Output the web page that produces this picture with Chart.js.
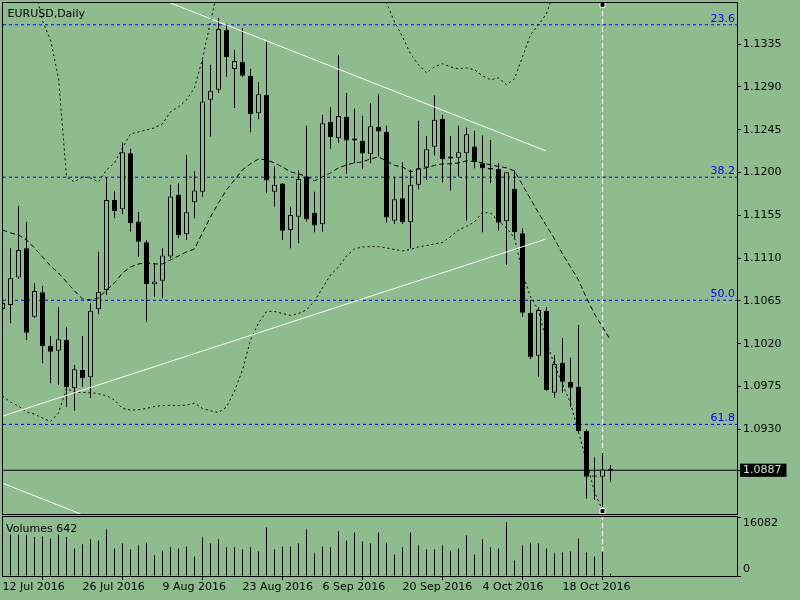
<!DOCTYPE html>
<html><head><meta charset="utf-8">
<script src="https://cdn.jsdelivr.net/npm/chart.js@4.4.1/dist/chart.umd.min.js"></script>
<style>
html,body{margin:0;padding:0;background:#8FBC8F;width:800px;height:600px;overflow:hidden}
#a{position:absolute;left:0;top:0}
#b{position:absolute;left:0;top:516px}
</style></head><body>
<canvas id="a" width="800" height="515"></canvas>
<canvas id="b" width="800" height="84"></canvas>
<script>
// ---------------- data ----------------
const symbolTitle = 'EURUSD,Daily';
const open = [1.10565,1.10607,1.10895,1.11204,1.10484,1.10741,1.10176,1.10127,1.10239,1.09731,
1.09924,1.09847,1.10562,1.10765,1.11712,1.11614,1.12203,1.11484,1.11267,1.10825,
1.10863,1.11116,1.11765,1.11351,1.11688,1.11799,1.12764,1.12869,1.13500,1.13087,
1.13164,1.13017,1.12624,1.12817,1.11799,1.11884,1.11396,1.11536,1.11957,1.11578,
1.11456,1.12533,1.12361,1.12585,1.12357,1.12333,1.12193,1.12480,1.12427,1.11494,
1.11730,1.11477,1.11870,1.12052,1.12270,1.12564,1.12168,1.12154,1.12203,1.12273,
1.12098,1.12049,1.12038,1.11488,1.11828,1.11362,1.10526,1.10074,1.10544,1.09685,
1.09997,1.09797,1.09748,1.09285,1.08816,1.08801,1.08887];
const high = [1.10681,1.11204,1.11649,1.11481,1.10836,1.10807,1.10281,1.10583,1.10379,1.09976,
1.10281,1.10625,1.11168,1.11947,1.11807,1.12315,1.12249,1.11586,1.11291,1.11046,
1.11204,1.11870,1.11888,1.12185,1.12010,1.13185,1.13132,1.13624,1.13564,1.13290,
1.13518,1.13090,1.12950,1.13377,1.12062,1.11891,1.11642,1.12020,1.12491,1.11799,
1.12606,1.12687,1.13237,1.12835,1.12673,1.12596,1.12729,1.12824,1.12491,1.11954,
1.12109,1.12028,1.12543,1.12385,1.12809,1.12606,1.12385,1.12491,1.12473,1.12438,
1.12388,1.12343,1.12101,1.12007,1.12020,1.11414,1.10660,1.10583,1.10583,1.10078,
1.10260,1.10053,1.10397,1.09300,1.09005,1.09054,1.08924];
const low = [1.10534,1.10415,1.10881,1.10239,1.10471,1.09994,1.09784,1.09766,1.09538,1.09495,
1.09748,1.09626,1.10513,1.10713,1.11523,1.11562,1.11379,1.11112,1.10432,1.10695,
1.10678,1.11099,1.11309,1.11291,1.11520,1.11747,1.12378,1.12835,1.13009,1.12677,
1.13003,1.12424,1.12561,1.11783,1.11642,1.11291,1.11204,1.11257,1.11484,1.11372,
1.11379,1.12252,1.12309,1.11986,1.12098,1.12035,1.12098,1.12168,1.11473,1.11460,
1.11460,1.11204,1.11825,1.11922,1.12178,1.11894,1.11810,1.11957,1.11494,1.12046,
1.11372,1.11888,1.11389,1.11028,1.11309,1.10484,1.10039,1.09853,1.09706,1.09632,
1.09685,1.09538,1.09268,1.08574,1.08556,1.08486,1.08749];
const close = [1.10628,1.10888,1.11186,1.10316,1.10755,1.10176,1.10116,1.10247,1.09742,1.09931,
1.09836,1.10547,1.10747,1.11712,1.11596,1.12214,1.11467,1.11273,1.10825,1.10853,
1.11128,1.11747,1.11341,1.11583,1.11810,1.12746,1.12859,1.13508,1.13213,1.13171,
1.13017,1.12614,1.12824,1.11915,1.11870,1.11389,1.11554,1.11933,1.11512,1.11442,
1.12519,1.12372,1.12593,1.12336,1.12336,1.12199,1.12487,1.12431,1.11526,1.11719,
1.11477,1.11870,1.12046,1.12245,1.12554,1.12140,1.12147,1.12214,1.12403,1.12109,
1.12046,1.12031,1.11473,1.12003,1.11372,1.10526,1.10057,1.10555,1.09713,1.09987,
1.09801,1.09737,1.09282,1.08801,1.08801,1.08879,1.08870];
const volume = [11000,11333,11333,11333,10601,10784,10235,11333,10601,7491,
8680,9961,9686,12705,7491,8863,7217,8314,9138,5570,
6942,7766,7491,8040,5296,10510,8863,9961,7766,7766,
7217,7766,6668,13254,7217,8040,8040,8863,12705,6119,
8040,7766,12156,9686,11882,9412,8863,11882,9138,5845,
7766,11882,8314,7217,7217,8314,6942,7491,11058,5845,
9961,7766,7491,14626,4198,8314,9138,8863,7491,6119,
6394,6668,10235,6394,5296,6668,642];
const bbUpper = [null,null,null,null,1.13950,1.13595,1.13395,1.12995,1.11954,1.11901,
1.11954,1.11943,1.11901,1.12028,1.12101,1.12259,1.12406,1.12427,1.12448,1.12469,
1.12512,1.12638,1.12690,1.12764,1.12890,1.13195,1.13585,1.13950,null,null,
null,null,null,null,null,null,null,null,null,null,
null,null,null,null,null,null,null,1.13930,1.13784,1.13585,
1.13427,1.13248,1.13132,1.13048,1.13111,1.13143,1.13111,1.13090,1.13101,1.13080,
1.13017,1.12974,1.12995,1.12922,1.12985,1.13216,1.13448,1.13553,1.13669,1.13920,
null,null,null,null,null,null,null];
const bbLower = [1.09650,1.09587,1.09545,1.09482,1.09461,1.09419,1.09382,1.09471,1.09729,1.09692,
1.09687,1.09685,1.09674,1.09655,1.09608,1.09519,1.09503,1.09506,1.09519,1.09540,
1.09550,1.09552,1.09550,1.09555,1.09576,1.09519,1.09495,1.09477,1.09534,1.09703,
1.09924,1.10239,1.10418,1.10539,1.10539,1.10518,1.10497,1.10518,1.10555,1.10650,
1.10786,1.10923,1.11007,1.11123,1.11197,1.11218,1.11221,1.11221,1.11207,1.11191,
1.11176,1.11191,1.11218,1.11233,1.11249,1.11265,1.11326,1.11396,1.11433,1.11481,
1.11581,1.11575,1.11491,1.11417,1.11312,1.10944,1.10692,1.10555,1.10218,1.09976,
1.09776,1.09576,1.09271,1.08966,1.08640,1.08451,1.08293];
const ma = [1.11396,1.11365,1.11344,1.11291,1.11207,1.11112,1.11018,1.10944,1.10849,1.10755,
1.10671,1.10660,1.10681,1.10765,1.10839,1.10944,1.11007,1.11039,1.11049,1.11039,
1.11039,1.11081,1.11123,1.11165,1.11197,1.11365,1.11533,1.11680,1.11817,1.11922,
1.12028,1.12091,1.12143,1.12133,1.12101,1.12059,1.12007,1.11986,1.11959,1.11912,
1.11954,1.11996,1.12049,1.12080,1.12101,1.12112,1.12143,1.12164,1.12122,1.12075,
1.12059,1.12007,1.12038,1.12049,1.12075,1.12091,1.12091,1.12101,1.12122,1.12117,
1.12101,1.12080,1.12064,1.12049,1.12017,1.11870,1.11723,1.11575,1.11439,1.11302,
1.11144,1.11007,1.10870,1.10681,1.10513,1.10376,1.10239];

const priceTicks = [1.1335,1.1290,1.1245,1.1200,1.1155,1.1110,1.1065,1.1020,1.0975,1.0930];
const lastPrice = 1.0887;
const fibLevels = ['23.6','38.2','50.0','61.8'];
const fibPrices = [1.13553,1.11951,1.10657,1.09352];
const dateTickIdx = [0,10,20,30,40,50,60,70];
const dateTickLabels = ['12 Jul 2016','26 Jul 2016','9 Aug 2016','23 Aug 2016','6 Sep 2016','20 Sep 2016','4 Oct 2016','18 Oct 2016'];
const volTicks = [0,16082];
// trend lines: [bar index], [price]
const trendDownX = [20.94,67.9], trendDownY = [1.13784,1.12228];
const trendUpX = [0.0625,67.9], trendUpY = [1.09440,1.11299];
const trendLowX = [0.0625,9.8], trendLowY = [1.08732,1.08409];
const markerBar = 75;
const markerPrices = [1.13763,1.08440];

// ---------------- view ranges / styles ----------------
const X_MIN = 0.0625, X_MAX = 91.8125;
const Y_MIN = 1.08410, Y_MAX = 1.13782;
const BG = '#8FBC8F';
const FONT = '11px "DejaVu Sans"';
Chart.defaults.font.family = 'DejaVu Sans';
Chart.defaults.font.size = 11;

const idx = open.map((_, i) => i);
const pts = arr => arr.map((v, i) => ({x: i, y: v}));
const seg = (xs, ys) => xs.map((x, k) => ({x: x, y: ys[k]}));

function frame(chart) {
  const c = chart.ctx, a = chart.chartArea;
  c.save(); c.strokeStyle = '#000'; c.lineWidth = 1;
  c.strokeRect(a.left - 0.5, a.top - 0.5, a.right - a.left + 1, a.bottom - a.top + 1);
  c.restore();
}
const bgPlugin = { id: 'bg', beforeDraw(chart) { const c = chart.ctx; c.save(); c.fillStyle = BG; c.fillRect(0, 0, chart.width, chart.height); c.restore(); } };
const mainDecor = { id: 'mainDecor', afterDraw(chart) {
  frame(chart);
  const c = chart.ctx, a = chart.chartArea, ys = chart.scales.y;
  c.save(); c.font = FONT; c.textBaseline = 'alphabetic';
  c.fillStyle = '#000'; c.textAlign = 'left';
  c.fillText(symbolTitle, a.left + 4.5, a.top + 13.7);
  c.fillStyle = '#0000FF'; c.textAlign = 'right';
  fibLevels.forEach((lv, k) => c.fillText(lv, a.right - 2, ys.getPixelForValue(fibPrices[k]) - 3));
  c.restore();
} };
const volDecor = { id: 'volDecor', afterDraw(chart) {
  frame(chart);
  const c = chart.ctx, a = chart.chartArea;
  c.save(); c.font = FONT; c.textBaseline = 'alphabetic'; c.fillStyle = '#000'; c.textAlign = 'left';
  c.fillText('Volumes ' + volume[volume.length - 1], a.left + 3, a.top + 15);
  c.restore();
} };

const common = { responsive: false, animation: false, devicePixelRatio: 1, events: [],
  plugins: { legend: { display: false }, tooltip: { enabled: false } } };

const lineDs = (data, color, dash, order) => ({ type: 'line', data, borderColor: color, borderWidth: 1,
  borderDash: dash, pointRadius: 0, tension: 0, fill: false, spanGaps: false, order });

// ---------------- main price chart ----------------
new Chart(document.getElementById('a'), {
  type: 'bar',
  data: { datasets: [
    lineDs(seg(trendDownX, trendDownY), '#FFFFFF', [], 0),
    lineDs(seg(trendUpX, trendUpY), '#FFFFFF', [], 0),
    lineDs(seg(trendLowX, trendLowY), '#FFFFFF', [], 0),
    { type: 'scatter', data: markerPrices.map(p => ({x: markerBar, y: p})), pointStyle: 'rect', pointRadius: 3.5,
      backgroundColor: '#000', borderColor: '#FFFFFF', borderWidth: 1, order: 0 },
    lineDs(pts(ma), '#000', [5, 3], 1),
    lineDs(pts(bbUpper), '#000', [2, 3], 2),
    lineDs(pts(bbLower), '#000', [2, 3], 2),
    { type: 'bar', data: idx.map(i => ({x: i, y: [open[i], close[i]]})),
      backgroundColor: idx.map(i => close[i] >= open[i] ? BG : '#000'),
      borderColor: '#000', borderWidth: 1, borderSkipped: false, barThickness: 5,
      grouped: false, minBarLength: 1, inflateAmount: 0, order: 3 },
    { type: 'bar', data: idx.map(i => ({x: i, y: [low[i], high[i]]})),
      backgroundColor: '#000', borderWidth: 0, barThickness: 1, grouped: false, inflateAmount: 0, order: 4 },
    lineDs([{x: X_MIN, y: lastPrice}, {x: X_MAX, y: lastPrice}], '#000', [], 5),
    lineDs([{x: markerBar, y: Y_MAX}, {x: markerBar, y: Y_MIN}], '#FFFFFF', [5, 3], 6),
    ...fibPrices.map(p => lineDs([{x: X_MIN, y: p}, {x: X_MAX, y: p}], '#0000FF', [3, 3], 7))
  ] },
  options: Object.assign({}, common, {
    layout: { autoPadding: false, padding: { left: 3, top: 3, right: 0, bottom: 1 } },
    scales: {
      x: { type: 'linear', min: X_MIN, max: X_MAX, display: false, offset: false },
      y: { type: 'linear', position: 'right', min: Y_MIN, max: Y_MAX, beginAtZero: false,
        grid: { drawOnChartArea: false, drawTicks: true, tickLength: 4, color: '#000' },
        border: { display: false },
        ticks: { autoSkip: false, padding: 2, font: { family: 'DejaVu Sans', size: 11 },
          color: c => (c.tick && c.tick.value === lastPrice) ? '#D4E4D4' : '#000',
          showLabelBackdrop: c => !!(c.tick && c.tick.value === lastPrice),
          backdropColor: '#000', backdropPadding: { left: 3, right: 5, top: 0, bottom: 0 },
          callback: v => Number(v).toFixed(4) },
        afterBuildTicks: s => { s.ticks = priceTicks.concat([lastPrice]).map(v => ({ value: v })); },
        afterFit: s => { s.width = 63; s.paddingTop = 0; s.paddingBottom = 0; }
      }
    }
  }),
  plugins: [bgPlugin, mainDecor]
});

// ---------------- volume chart ----------------
new Chart(document.getElementById('b'), {
  type: 'bar',
  data: { datasets: [
    { type: 'bar', data: pts(volume), backgroundColor: '#000', borderWidth: 0, barThickness: 1,
      grouped: false, inflateAmount: 0, order: 0 },
    lineDs([{x: markerBar, y: 0}, {x: markerBar, y: volTicks[1]}], '#FFFFFF', [5, 3], 1)
  ] },
  options: Object.assign({}, common, {
    layout: { autoPadding: false, padding: { left: 3, top: 1, right: 0, bottom: 0 } },
    scales: {
      x: { type: 'linear', position: 'bottom', min: X_MIN, max: X_MAX, offset: false,
        grid: { drawOnChartArea: false, drawTicks: true, tickLength: 4, color: '#000' },
        border: { display: false },
        ticks: { autoSkip: false, maxRotation: 0, minRotation: 0, align: 'start', padding: 1,
          color: '#000', font: { family: 'DejaVu Sans', size: 11 },
          callback: v => dateTickLabels[dateTickIdx.indexOf(v)] },
        afterBuildTicks: s => { s.ticks = dateTickIdx.map(v => ({ value: v })); },
        afterFit: s => { s.height = 24; s.paddingLeft = 0; s.paddingRight = 0; }
      },
      y: { type: 'linear', position: 'right', min: volTicks[0], max: volTicks[1],
        grid: { drawOnChartArea: false, drawTicks: true, tickLength: 4, color: '#000' },
        border: { display: false },
        ticks: { autoSkip: false, padding: 2, color: '#000', font: { family: 'DejaVu Sans', size: 11 },
          callback: v => v === volTicks[0] ? [String(v), ''] : ['', String(v)] },
        afterBuildTicks: s => { s.ticks = volTicks.map(v => ({ value: v })); },
        afterFit: s => { s.width = 63; s.paddingTop = 0; s.paddingBottom = 0; }
      }
    }
  }),
  plugins: [bgPlugin, volDecor]
});
</script>
</body></html>
